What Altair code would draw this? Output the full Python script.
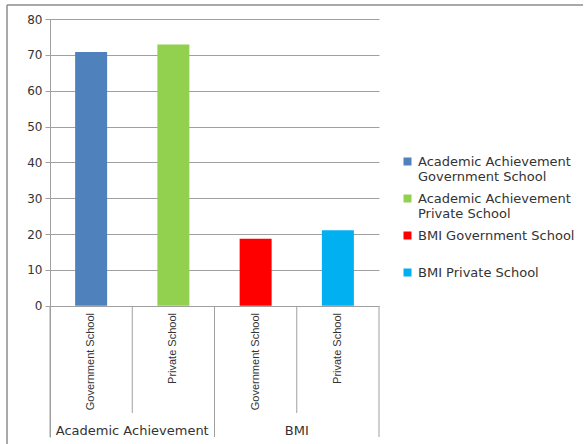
import altair as alt
import pandas as pd

groups = ["Academic Achievement", "Academic Achievement", "BMI", "BMI"]
subs = ["Government School", "Private School", "Government School", "Private School"]
values = [70.8, 72.9, 18.7, 21.1]
series = ["Academic Achievement Government School", "Academic Achievement Private School",
          "BMI Government School", "BMI Private School"]
colors = ["#4F81BD", "#92D050", "#FF0000", "#00B0F0"]
y_ticks = [0, 10, 20, 30, 40, 50, 60, 70, 80]

keys = [g + " | " + s for g, s in zip(groups, subs)]
df = pd.DataFrame({"key": keys, "group": groups, "sub": subs, "value": values, "series": series})

GRAY = "#a0a0a0"
TXT = "#333333"

xenc = alt.X("key:N", sort=keys, scale=alt.Scale(paddingInner=0, paddingOuter=0), axis=None)
yscale = alt.Scale(domain=[-36.6, 80], nice=False, zero=False)

base = alt.Chart(df)

bars = base.mark_bar(size=32).encode(
    x=xenc,
    y=alt.Y("value:Q", scale=yscale,
            axis=alt.Axis(values=y_ticks, grid=True, gridColor=GRAY, domainColor=GRAY,
                          tickColor=GRAY, tickSize=5, labelFont="DejaVu Sans", labelFontSize=12,
                          labelColor=TXT, labelPadding=3, title=None)),
    color=alt.Color("series:N", sort=series, scale=alt.Scale(domain=series, range=colors),
                    legend=alt.Legend(orient="none", legendX=351, legendY=136, title=None,
                                      symbolType="square", symbolSize=64, symbolStrokeWidth=0,
                                      labelFont="DejaVu Sans", labelFontSize=13, labelColor=TXT,
                                      labelLimit=300, labelOffset=4, rowPadding=8,
                                      labelExpr="indexof(datum.label, 'Academic') == 0 ? ['Academic Achievement', slice(datum.label, 21)] : [datum.label, '']")),
)

cat_labels = base.mark_text(angle=270, align="right", baseline="middle", font="Liberation Sans",
                            fontSize=11, color=TXT).encode(
    x=xenc, y=alt.value(294), text="sub:N")

group_labels = base.transform_filter(alt.datum.sub == "Government School").mark_text(
    font="DejaVu Sans", fontSize=13, color=TXT, baseline="middle").encode(
    x=alt.X("key:N", sort=keys, bandPosition=1, scale=alt.Scale(paddingInner=0, paddingOuter=0), axis=None),
    y=alt.value(412), text="group:N")

short_sep = base.transform_filter(alt.datum.sub == "Private School").mark_rule(color=GRAY).encode(
    x=alt.X("key:N", sort=keys, bandPosition=0, scale=alt.Scale(paddingInner=0, paddingOuter=0), axis=None),
    y=alt.value(287), y2=alt.value(394))

long_sep = base.transform_filter(alt.datum.sub == "Government School").mark_rule(color=GRAY).encode(
    x=alt.X("key:N", sort=keys, bandPosition=0, scale=alt.Scale(paddingInner=0, paddingOuter=0), axis=None),
    y=alt.value(287), y2=alt.value(418))

end_sep = base.transform_filter(alt.datum.key == keys[-1]).mark_rule(color=GRAY).encode(
    x=alt.X("key:N", sort=keys, bandPosition=1, scale=alt.Scale(paddingInner=0, paddingOuter=0), axis=None),
    y=alt.value(287), y2=alt.value(418))

frame_top = base.transform_filter(alt.datum.key == keys[0]).mark_rule(color="#8c8c8c", strokeWidth=1.5).encode(
    x=alt.value(-43), x2=alt.value(533), y=alt.value(-14))
frame_left = base.transform_filter(alt.datum.key == keys[0]).mark_rule(color="#8c8c8c", strokeWidth=1.5).encode(
    x=alt.value(-43), y=alt.value(-14), y2=alt.value(430))

chart = alt.layer(bars, cat_labels, group_labels, short_sep, long_sep, end_sep, frame_top, frame_left).properties(
    width=329, height=418,
    autosize=alt.AutoSizeParams(type="none"),
    padding={"left": 50, "top": 19, "right": 208, "bottom": 7},
).configure_view(stroke=None)

chart.save("out.html", embed_options={"renderer": "svg", "actions": False})
